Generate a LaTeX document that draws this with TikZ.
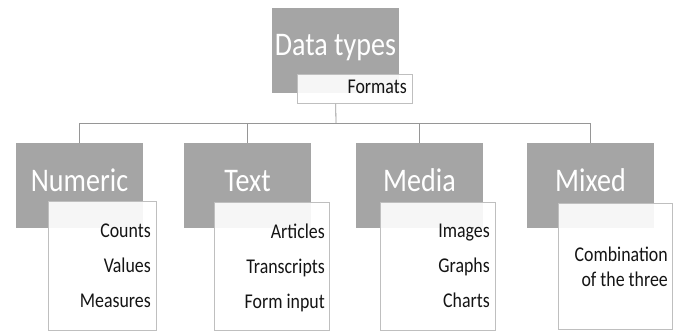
\documentclass[tikz,border=0pt]{standalone}
\usepackage{fontspec}
\setmainfont{Carlito}[FakeStretch=0.85]
\begin{document}
\begin{tikzpicture}[x=1bp,y=-1bp,
  graybox/.style={draw=none,fill={rgb,255:red,165;green,165;blue,165},inner sep=0,minimum width=127bp,minimum height=85bp,anchor=north west},
  whitebox/.style={draw={rgb,255:red,191;green,191;blue,191},line width=0.8bp,fill=white,fill opacity=0.9,inner sep=0,anchor=north west},
  bigtxt/.style={text=white,font=\fontsize{33bp}{33bp}\selectfont,inner sep=0,anchor=base},
  smalltxt/.style={text={rgb,255:red,20;green,20;blue,20},font=\fontsize{21bp}{21bp}\selectfont,inner sep=0,anchor=base east},
  conn/.style={draw={rgb,255:red,150;green,150;blue,150},line width=0.8bp}]
\useasboundingbox (0,0) rectangle (678,332);
% top
\node[graybox] (top) at (272,8) {};
\node[bigtxt] (toptxt) at (335.5,55) {Data types};
\node[whitebox,minimum width=115bp,minimum height=29bp] (fmt) at (297,74) {};
\node[smalltxt] (fmttxt) at (407,93) {Formats};
% categories
\node[graybox] (c1) at (16,143) {};
\node[graybox] (c2) at (184,143) {};
\node[graybox] (c3) at (356,143) {};
\node[graybox] (c4) at (527,143) {};
\coordinate (bus) at (336,123);
\draw[conn] (fmt.south -| top.south) -- (bus);
\draw[conn] (c1.north) -- (c1.north |- bus) -- (c4.north |- bus) -- (c4.north);
\draw[conn] (c2.north |- bus) -- (c2.north);
\draw[conn] (c3.north |- bus) -- (c3.north);
\node[bigtxt] (t1) at (79.5,191) {Numeric};
\node[bigtxt] (t2) at (247.5,191) {Text};
\node[bigtxt] (t3) at (419.5,191) {Media};
\node[bigtxt] (t4) at (590.5,191) {Mixed};
% white boxes
\node[whitebox,minimum width=108bp,minimum height=129bp] (w1) at (48,201) {};
\node[whitebox,minimum width=115bp,minimum height=128bp] (w2) at (214,202) {};
\node[whitebox,minimum width=115bp,minimum height=128bp] (w3) at (380,202) {};
\node[whitebox,minimum width=114bp,minimum height=126bp] (w4) at (558,203) {};
\node[smalltxt] (a1) at (151,237) {Counts};
\node[smalltxt] (a2) at (151,272) {Values};
\node[smalltxt] (a3) at (151,307) {Measures};
\node[smalltxt] (b1) at (325,238) {Articles};
\node[smalltxt] (b2) at (325,273) {Transcripts};
\node[smalltxt] (b3) at (325,308) {Form input};
\node[smalltxt] (d1) at (490,237) {Images};
\node[smalltxt] (d2) at (490,272) {Graphs};
\node[smalltxt] (d3) at (490,307) {Charts};
\node[smalltxt] (e1) at (668,261) {Combination};
\node[smalltxt] (e2) at (668,286) {of the three};
\end{tikzpicture}
\end{document}
